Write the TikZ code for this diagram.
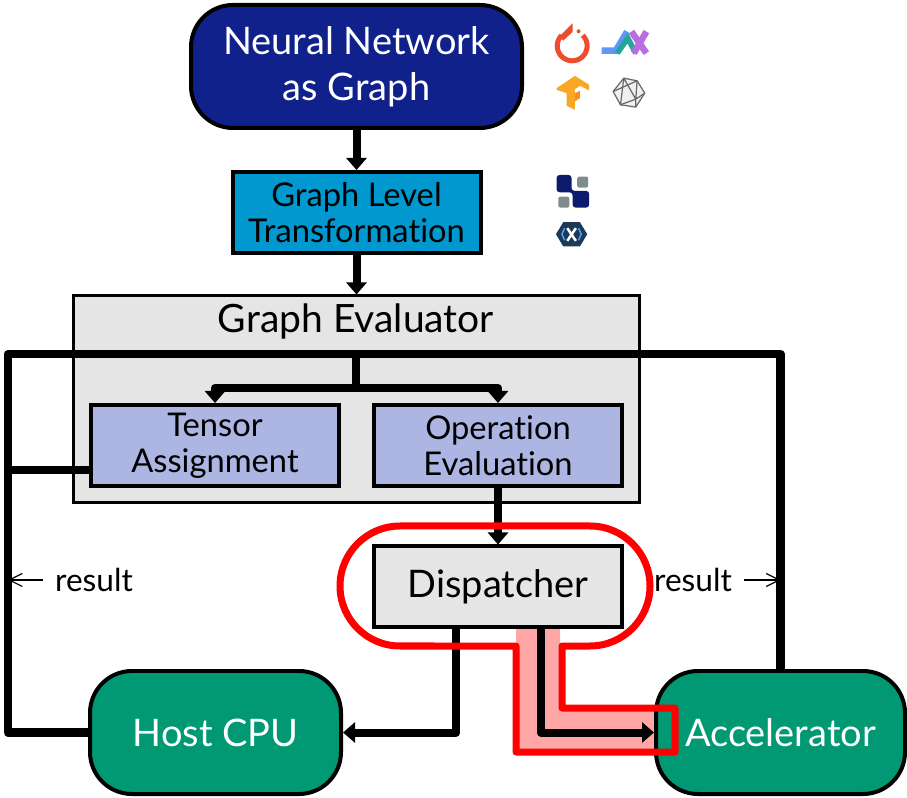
\documentclass[tikz,border=0pt]{standalone}
\usepackage{fontspec}
\setmainfont[Ligatures=NoCommon]{Lato}
\usetikzlibrary{arrows.meta, positioning}
\definecolor{navy}{HTML}{10218B}
\definecolor{lightblue}{HTML}{0098CE}
\definecolor{lilac}{HTML}{ADB5E3}
\definecolor{teal2}{HTML}{009973}
\definecolor{pale}{HTML}{E5E5E5}
\definecolor{pink2}{HTML}{FFA6A6}
\definecolor{torchred}{HTML}{EE4C2C}
\definecolor{jaxblue}{HTML}{5E97F6}
\definecolor{jaxgreen}{HTML}{26A69A}
\definecolor{jaxpurple}{HTML}{B86EE0}
\definecolor{tforange}{HTML}{F9A825}
\definecolor{squaregray}{HTML}{7F8C8D}
\definecolor{xladark}{HTML}{1B3A57}
\newcommand\bigtext{\fontsize{10.8}{13}\selectfont}
\newcommand\midtext{\fontsize{9.3}{10.2}\selectfont}
\newcommand\smalltext{\fontsize{9}{9}\selectfont}

\begin{document}
\begin{tikzpicture}[
    roundbox/.style={draw=black, line width=0.04cm, rounded corners=0.42cm, minimum width=3.31cm, minimum height=1.23cm, align=center, text=white, font=\bigtext},
    plainbox/.style={draw=black, line width=0.04cm, inner sep=0pt, minimum width=2.48cm, minimum height=0.81cm, align=center, font=\midtext},
    flow/.style={line width=0.08cm, line join=round, -{Triangle[width=0.2cm, length=0.12cm]}},
    bus/.style={line width=0.085cm, line join=round},
    thinflow/.style={line width=0.012cm, -{Straight Barb[width=0.13cm, length=0.13cm]}},
    iconone/.style={shift={(5.30,-0.10)}, x=0.00333cm, y=-0.00333cm},
    icontwo/.style={shift={(5.30,-1.65)}, x=0.00333cm, y=-0.00333cm}]

    \useasboundingbox (0,0) rectangle (9.07,-7.98);

    % Highlighted path
    \fill[pink2] (5.16,-6.20) -- (5.60,-6.20) -- (5.60,-7.10) -- (6.70,-7.10) -- (6.70,-7.50) -- (5.16,-7.50) -- cycle;

    % Blocks
    \node at (3.565,-0.665) [roundbox, fill=navy] (nn) {Neural Network\\as Graph};
    \node at (3.565,-2.125) [plainbox, fill=lightblue] (glt) {Graph Level\\Transformation};
    \node at (3.56,-3.995) [draw=black, line width=0.03cm, fill=pale, minimum width=5.66cm, minimum height=2.07cm] (ge) {};
    \node at (3.56,-3.21) [font=\fontsize{11.1}{13}\selectfont] (getitle) {Graph Evaluator};
    \node at (2.15,-4.455) [plainbox, fill=lilac] (tensor) {Tensor\\Assignment};
    \node at (4.98,-4.455) [plainbox, fill=lilac] (opeval) {Operation\\Evaluation};
    \node at (4.98,-5.87) [plainbox, fill=pale, font=\bigtext] (disp) {Dispatcher};
    \node at (2.155,-7.325) [roundbox, fill=teal2, minimum width=2.51cm] (host) {Host CPU};
    \node at (7.805,-7.325) [roundbox, fill=teal2, minimum width=2.49cm] (accel) {Accelerator};

    \coordinate (busl) at (0.08,-3.54);
    \coordinate (busr) at (7.805,-3.54);
    \coordinate (fork) at (3.56,-3.88);

    % Connectors
    \draw[flow] (nn.south) -- (glt.north);
    \draw[flow] (glt.south) -- (glt.south |- ge.north);
    \draw[bus] (host.west) -| (busl) -- (busr) -- (accel.north);
    \draw[bus] (tensor.west |- 0,-4.70) -- (0.08,-4.70);
    \draw[bus] (fork |- busl) -- (fork);
    \draw[flow] (fork) -| (tensor.north);
    \draw[flow] (fork) -| (opeval.north);
    \draw[flow] (opeval.south) -- (disp.north);
    \draw[flow] ([xshift=-0.42cm] disp.south) |- (host.east);
    \draw[flow] ([xshift=0.43cm] disp.south) |- (accel.west);

    % Result labels
    \node at (0.94,-5.80) [font=\smalltext] (resl) {result};
    \node at (6.93,-5.80) [font=\smalltext] (resr) {result};
    \draw[thinflow] (resl.west) -- (resl.west -| busl);
    \draw[thinflow] (resr.east) -- (resr.east -| busr);

    % Red outline
    \draw[red, line width=0.07cm, line join=round] (5.62,-6.46) -- (5.90,-6.46) arc[start angle=-90, end angle=90, radius=0.60] -- (4.00,-5.26) arc[start angle=90, end angle=270, radius=0.60] -- (5.16,-6.46) -- (5.16,-7.52) -- (6.75,-7.52) -- (6.75,-7.08) -- (5.62,-7.08) -- cycle;

    % Framework icons
    \begin{scope}[iconone]
        \draw[torchred, line width=0.05cm] (95,76) arc[start angle=225, end angle=-45, radius=45];
        \fill[torchred] (128,40) -- (128,66) -- (100,92) -- (88,80) -- cycle;
        \fill[torchred] (146,64) circle (6);
        \draw[jaxblue, line width=0.065cm] (215,122) -- (258,122) -- (292,65);
        \draw[jaxgreen, line width=0.055cm] (262,130) -- (294,85) -- (318,130);
        \draw[jaxpurple, line width=0.065cm] (305,65) -- (350,130);
        \draw[jaxpurple, line width=0.065cm] (350,65) -- (312,130);
        \fill[tforange] (80,235) -- (135,198) -- (178,225) -- (178,242) -- (150,228) -- (135,238) -- (135,300) -- (110,288) -- (110,250) -- (80,240) -- cycle;
        \fill[tforange!85!red] (135,250) -- (150,243) -- (150,265) -- (135,275) -- cycle;
        \filldraw[fill=black!6, draw=black!60, line width=0.012cm] (282,205) -- (322,213) -- (345,250) -- (318,292) -- (272,285) -- (250,245) -- cycle;
        \draw[black!60, line width=0.012cm] (282,205) -- (272,285) -- (318,268) -- (345,250) (322,213) -- (318,268) -- (318,292) (282,205) -- (318,268) (250,245) -- (322,213);
    \end{scope}

    % Compiler icons
    \begin{scope}[icontwo]
        \fill[navy!80!black, rounded corners=0.03cm] (80,30) -- (125,30) -- (125,78) -- (178,78) -- (178,128) -- (128,128) -- (128,82) -- (80,82) -- cycle;
        \fill[squaregray, rounded corners=0.02cm] (142,35) rectangle (175,68);
        \fill[squaregray, rounded corners=0.02cm] (85,95) rectangle (118,128);
        \fill[xladark] (78,208) -- (100,172) -- (150,172) -- (172,208) -- (150,245) -- (100,245) -- cycle;
        \draw[white, line width=0.025cm] (112,190) -- (138,228) (138,190) -- (112,228);
        \draw[jaxblue, line width=0.015cm] (104,190) -- (96,208) -- (104,226) (146,190) -- (154,208) -- (146,226);
    \end{scope}

\end{tikzpicture}
\end{document}
